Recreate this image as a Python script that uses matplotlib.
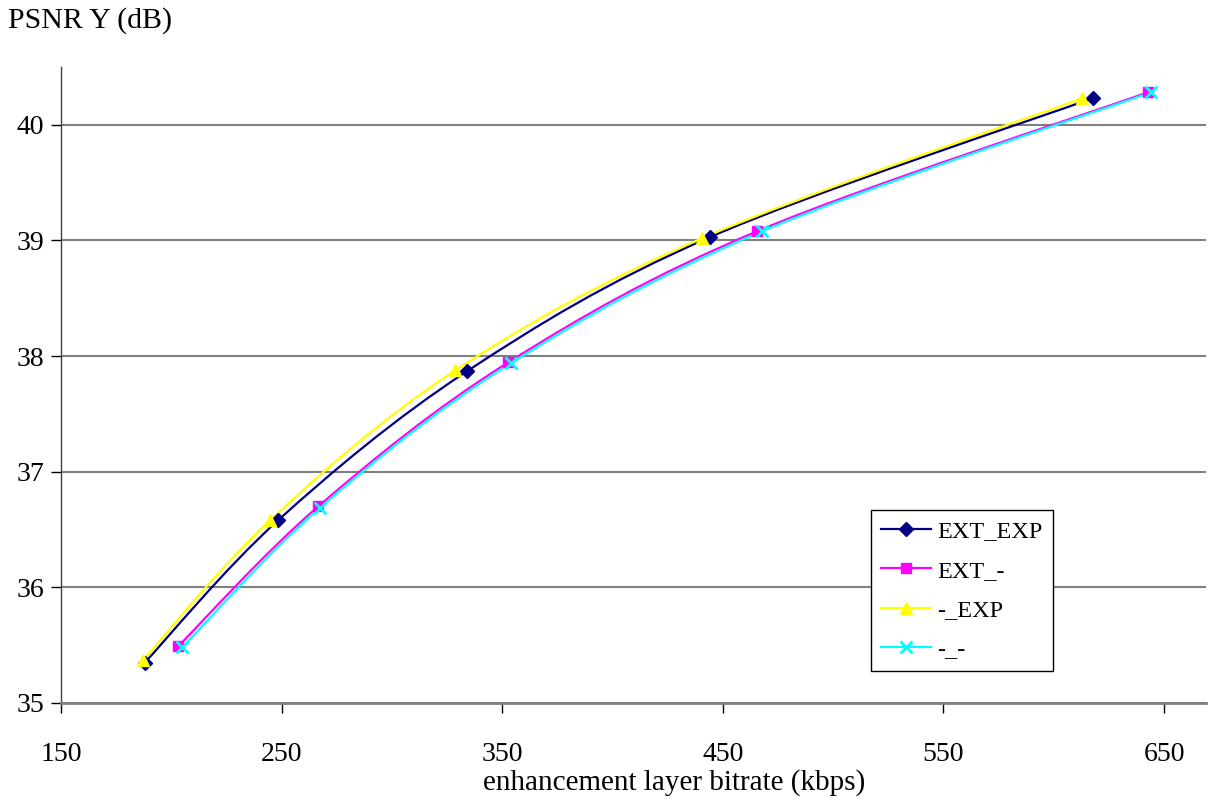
import numpy as np
import matplotlib
matplotlib.use("Agg")
import matplotlib.pyplot as plt
from matplotlib.path import Path
from matplotlib.patches import PathPatch
from matplotlib.lines import Line2D

plt.rcParams['font.family'] = ['Liberation Serif', 'DejaVu Serif']

# data
labels = ['EXT_EXP', 'EXT_-', '-_EXP', '-_-']
x_ext_exp = [188.0, 248.4, 334.1, 444.3, 617.6]
y_ext_exp = [35.35, 36.58, 37.87, 39.03, 40.23]
x_ext_no = [203.1, 266.6, 352.7, 465.6, 642.5]
y_ext_no = [35.49, 36.70, 37.945, 39.08, 40.28]
x_no_exp = [187.2, 244.8, 328.7, 440.7, 613.0]
y_no_exp = [35.37, 36.58, 37.876, 39.02, 40.23]
x_no_no = [204.9, 267.5, 354.1, 467.9, 643.9]
y_no_no = [35.48, 36.69, 37.94, 39.08, 40.28]

xs = [x_ext_exp, x_ext_no, x_no_exp, x_no_no]
ys = [y_ext_exp, y_ext_no, y_no_exp, y_no_no]
colors = ['#000080', '#FF00FF', '#FFFF00', '#00FFFF']
markers = ['D', 's', '^', 'x']
msizes = [7, 7, 9, 9]

xticks = [150, 250, 350, 450, 550, 650]
yticks = [35, 36, 37, 38, 39, 40]


def smooth_path(x, y):
    # excel-style smoothed line: catmull-rom as cubic bezier segments
    p = np.column_stack([x, y])
    n = len(p)
    verts = [p[0]]
    codes = [Path.MOVETO]
    for i in range(n - 1):
        p0 = p[i - 1] if i > 0 else p[i]
        p3 = p[i + 2] if i + 2 < n else p[i + 1]
        c1 = p[i] + (p[i + 1] - p0) / 6.0
        c2 = p[i + 1] - (p3 - p[i]) / 6.0
        verts += [c1, c2, p[i + 1]]
        codes += [Path.CURVE4] * 3
    return Path(verts, codes)


fig = plt.figure(figsize=(12.09, 8.02), dpi=100)
ax = fig.add_axes([61 / 1209, 1 - 703 / 802, 1145 / 1209, 636 / 802])

handles = []
for x, y, c, m, ms, lab in zip(xs, ys, colors, markers, msizes, labels):
    ax.add_patch(PathPatch(smooth_path(x, y), facecolor='none', edgecolor=c,
                           lw=1.6, zorder=3))
    ax.plot(x, y, ls='none', marker=m, color=c, ms=ms, mew=2 if m == 'x' else 1,
            zorder=4)
    handles.append(Line2D([], [], color=c, lw=1.6, marker=m, ms=ms,
                          mew=2 if m == 'x' else 1))

ax.set_xlim(150, 669)
ax.set_ylim(35, 40.5)
ax.set_xticks(xticks)
ax.set_yticks(yticks)
ax.set_xticklabels([str(t) for t in xticks], fontsize=20)
ax.set_yticklabels([str(t) for t in yticks], fontsize=20)
ax.tick_params(axis='x', length=7, width=1, pad=21, colors='#000000')
ax.tick_params(axis='y', length=7, width=1, pad=5)

ax.yaxis.grid(True, color='#808080', lw=1.5, zorder=1)
ax.set_axisbelow(True)
for s in ['top', 'right']:
    ax.spines[s].set_visible(False)
ax.spines['bottom'].set_color('#808080')
ax.spines['bottom'].set_linewidth(2)
ax.spines['left'].set_color('#404040')
ax.spines['left'].set_linewidth(1)

fig.text(8 / 1209, 1 - 21 / 802, 'PSNR Y (dB)', fontsize=21.5, va='center', ha='left')
fig.text(674 / 1209, 1 - 783 / 802, 'enhancement layer bitrate (kbps)', fontsize=21,
         va='center', ha='center')

leg = ax.legend(handles, labels, loc='lower left',
                bbox_to_anchor=((871 - 61) / 1145, (703 - 671) / 636),
                prop={'size': 17.5}, frameon=True, fancybox=False,
                edgecolor='#000000', handlelength=2.05, handletextpad=0.25,
                labelspacing=0.72, borderpad=0.42, borderaxespad=0)
leg.get_frame().set_linewidth(1)
leg.get_frame().set_alpha(1)

fig.savefig('out.png', dpi=100)
